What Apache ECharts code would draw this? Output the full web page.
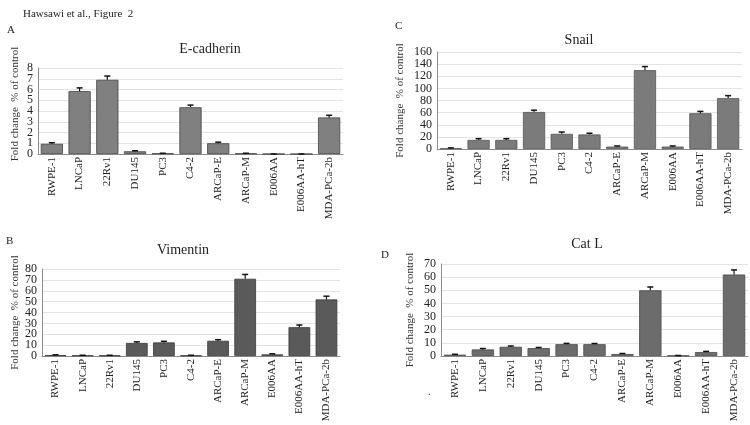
<!DOCTYPE html>
<html>
<head>
<meta charset="utf-8">
<script src="https://cdn.jsdelivr.net/npm/echarts@6/dist/echarts.min.js"></script>
<style>html,body{margin:0;padding:0;background:#fff;}#c{width:750px;height:425px;}</style>
</head>
<body>
<div id="c"></div>
<script>
const categories = ['RWPE-1','LNCaP','22Rv1','DU145','PC3','C4-2','ARCaP-E','ARCaP-M','E006AA','E006AA-hT','MDA-PCa-2b'];

const ecadValues = [0.95, 5.85, 6.9, 0.25, 0.05, 4.35, 1.0, 0.05, 0, 0, 3.4];
const ecadErrors = [0.1, 0.3, 0.35, 0.05, 0.02, 0.2, 0.1, 0.02, 0, 0, 0.2];

const vimValues = [0.8, 0.5, 0.5, 12, 12.5, 0.5, 14, 71, 1.5, 26.5, 52];
const vimErrors = [0.3, 0.2, 0.2, 1, 1, 0.2, 1, 4, 0.5, 2, 3];

const snailValues = [1, 15, 15, 61, 25, 24, 4, 130, 4, 59, 84];
const snailErrors = [0.8, 2, 2, 3, 3, 2, 1, 6, 1, 3, 4];

const catlValues = [1, 5, 7, 6, 9, 9, 1.5, 50, 0.3, 3, 62];
const catlErrors = [0.3, 0.7, 0.6, 0.5, 0.6, 0.5, 0.4, 2.5, 0.1, 0.5, 3.5];

const yMax = [8, 80, 160, 70];
const yInterval = [1, 10, 20, 10];
const yTicksA = [0, 1, 2, 3, 4, 5, 6, 7, 8];
const yTicksB = [0, 10, 20, 30, 40, 50, 60, 70, 80];
const yTicksC = [0, 20, 40, 60, 80, 100, 120, 140, 160];
const yTicksD = [0, 10, 20, 30, 40, 50, 60, 70];
const yTicks = [yTicksA, yTicksB, yTicksC, yTicksD];

const FONT = '"Liberation Serif", "Times New Roman", serif';
const panels = [
  {vals: ecadValues, errs: ecadErrors, color: '#808080', border: '#444', grid: {left: 38, top: 68, width: 305, height: 86}, gap: 17, pad: [0, 0, 0, 14]},
  {vals: vimValues, errs: vimErrors, color: '#5a5a5a', border: '#3a3a3a', grid: {left: 42, top: 269, width: 298, height: 87}, gap: 21, pad: 0},
  {vals: snailValues, errs: snailErrors, color: '#7b7b7b', border: '#555', grid: {left: 437, top: 52, width: 305, height: 97}, gap: 31, pad: 0},
  {vals: catlValues, errs: catlErrors, color: '#6c6c6c', border: '#4a4a4a', grid: {left: 441, top: 264, width: 307, height: 92}, gap: 25, pad: 0}
];

const grids = [], xAxes = [], yAxes = [], series = [];
panels.forEach((p, i) => {
  grids.push(Object.assign({containLabel: false}, p.grid));
  xAxes.push({
    type: 'category', gridIndex: i, data: categories,
    axisLine: {lineStyle: {color: '#8c8c8c', width: 1}},
    axisTick: {show: false},
    axisLabel: {rotate: 90, interval: 0, margin: 3, color: '#222', fontFamily: FONT, fontSize: 11}
  });
  yAxes.push({
    type: 'value', gridIndex: i, min: 0, max: yMax[i], interval: yInterval[i],
    name: 'Fold change  % of control', nameLocation: 'middle', nameRotate: 90, nameGap: p.gap,
    nameTextStyle: {color: '#333', fontFamily: FONT, fontSize: 11, padding: p.pad},
    axisLine: {show: true, lineStyle: {color: '#8c8c8c', width: 1}},
    axisTick: {show: false},
    splitLine: {lineStyle: {color: '#e3e3e3', width: 1}},
    axisLabel: {show: false}
  });
  series.push({
    type: 'bar', xAxisIndex: i, yAxisIndex: i, data: p.vals,
    barCategoryGap: '20%',
    itemStyle: {color: p.color, borderColor: p.border, borderWidth: 0.8},
    silent: true
  });
  series.push({
    type: 'custom', xAxisIndex: i, yAxisIndex: i,
    data: p.vals.map((v, k) => [k, v, p.errs[k]]),
    encode: {x: 0, y: 1},
    z: 5,
    renderItem: function (params, api) {
      const x = api.value(0), v = api.value(1), e = api.value(2);
      const base = api.coord([x, v]);
      const top = api.coord([x, v + e]);
      const hw = 3;
      return {
        type: 'group',
        children: [
          {type: 'line', shape: {x1: base[0], y1: base[1], x2: top[0], y2: top[1]}, style: {stroke: '#111', lineWidth: 1.2}},
          {type: 'line', shape: {x1: top[0] - hw, y1: top[1], x2: top[0] + hw, y2: top[1]}, style: {stroke: '#111', lineWidth: 1.5}}
        ]
      };
    }
  });
});

function txt(x, y, text, size, align) {
  return {type: 'text', x: x, y: y, style: {text: text, fontFamily: FONT, fontSize: size, fill: '#222', textAlign: align || 'left', textVerticalAlign: 'middle'}};
}

const staticText = [
  txt(23, 14, 'Hawsawi et al., Figure  2', 11),
  txt(7, 30, 'A', 11),
  txt(6, 241, 'B', 11),
  txt(395, 26, 'C', 11),
  txt(381, 255, 'D', 11),
  txt(210, 49, 'E-cadherin', 14, 'center'),
  txt(183, 250, 'Vimentin', 14, 'center'),
  txt(579, 40, 'Snail', 14, 'center'),
  txt(587, 244, 'Cat L', 14, 'center'),
  txt(428, 392, '.', 10)
];

const option = {
  animation: false,
  backgroundColor: '#fff',
  grid: grids, xAxis: xAxes, yAxis: yAxes, series: series,
  graphic: staticText
};

const chart = echarts.init(document.getElementById('c'), null, {renderer: 'canvas'});
chart.setOption(option);

// y tick labels placed through the library's own axis scale
const tickLabels = [];
yTicks.forEach((ticks, i) => {
  const x0 = chart.convertToPixel({xAxisIndex: i}, 0) - (chart.convertToPixel({xAxisIndex: i}, 1) - chart.convertToPixel({xAxisIndex: i}, 0)) / 2;
  ticks.forEach(v => {
    const y = chart.convertToPixel({yAxisIndex: i}, v);
    tickLabels.push(txt(x0 - 5, y, String(v), 12, 'right'));
  });
});
chart.setOption({graphic: staticText.concat(tickLabels)});
</script>
</body>
</html>
